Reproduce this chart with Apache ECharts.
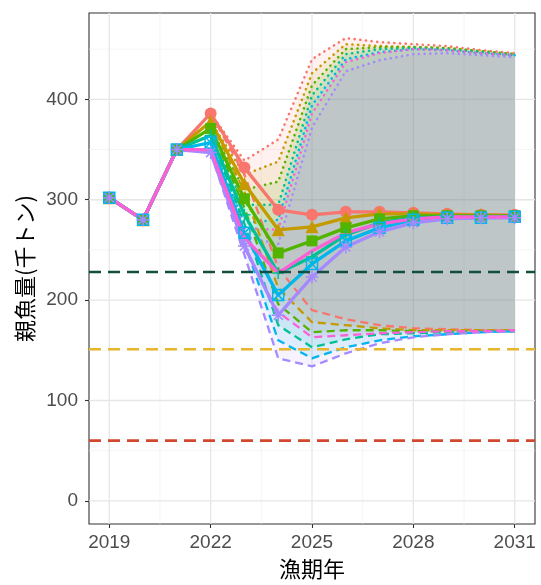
<!DOCTYPE html>
<html><head><meta charset="utf-8">
<script src="https://cdn.jsdelivr.net/npm/echarts@6/dist/echarts.min.js"></script>
<style>html,body{margin:0;padding:0;background:#fff}#c{width:541px;height:585px}</style>
</head><body><div id="c"></div>
<script>
// ---- data ----
const histYears = [2019, 2020, 2021];
const histSSB   = [302, 280, 350];
const projYears = [2022, 2023, 2024, 2025, 2026, 2027, 2028, 2029, 2030, 2031];

// medians (solid lines)
const medS1 = [386, 332, 290, 285, 288, 288, 287, 286, 285, 285];
const medS2 = [378, 316, 270, 273, 282, 286, 286, 285, 285, 284];
const medS3 = [371, 301, 247, 259, 272, 281, 284, 284, 284, 284];
const medS4 = [364, 285, 227, 243, 265, 277, 282, 283, 283, 283];
const medS5 = [357, 267, 205, 236, 259, 272, 280, 282, 282, 283];
const medS6 = [347, 254, 185, 223, 253, 268, 277, 281, 282, 282];
const medS7 = [350, 262, 227, 249, 267, 276, 281, 283, 283, 283];

// upper bounds (dotted)
const upS1 = [386, 339, 360, 440, 461, 457, 455, 453, 449, 446];
const upS2 = [378, 325, 338, 426, 455, 453, 452, 451, 448, 445];
const upS3 = [371, 310, 318, 414, 450, 452, 452, 451, 448, 445];
const upS4 = [364, 295, 295, 404, 445, 450, 451, 450, 447, 444];
const upS5 = [357, 277, 280, 394, 440, 447, 450, 449, 446, 444];
const upS6 = [347, 263, 256, 372, 428, 439, 445, 446, 444, 442];
const upS7 = [350, 272, 270, 386, 437, 446, 450, 449, 446, 444];

// lower bounds (dashed)
const loS1 = [386, 325, 232, 190, 181, 175, 172, 171, 170, 170];
const loS2 = [378, 308, 212, 178, 175, 172, 170, 170, 170, 170];
const loS3 = [371, 292, 196, 168, 170, 170, 169, 169, 169, 169];
const loS4 = [364, 276, 175, 153, 161, 166, 167, 168, 169, 169];
const loS5 = [357, 257, 160, 142, 153, 160, 164, 166, 168, 169];
const loS6 = [347, 245, 142, 134, 147, 157, 163, 166, 168, 169];
const loS7 = [350, 252, 188, 163, 165, 167, 168, 169, 169, 170];

// reference points
const refTarget = 228, refLimit = 151, refBan = 60;

// axes
const xTicks = [2019, 2022, 2025, 2028, 2031];
const xMinor = [2020.5, 2023.5, 2026.5, 2029.5];
const yTicks = [0, 100, 200, 300, 400];
const yMinor = [50, 150, 250, 350, 450];
const xMin = 2018.4, xMax = 2031.6, yMin = -23, yMax = 486;

// ---- styling ----
const colors = ['#F8766D', '#C49A00', '#53B400', '#00C094', '#00B6EB', '#A58AFF', '#FB61D7'];
const meds = [medS1, medS2, medS3, medS4, medS5, medS6, medS7];
const ups  = [upS1, upS2, upS3, upS4, upS5, upS6, upS7];
const los  = [loS1, loS2, loS3, loS4, loS5, loS6, loS7];
const symbols = [
  {s: 'circle', size: 12, fill: true},
  {s: 'triangle', size: 13, fill: true},
  {s: 'rect', size: 11, fill: true},
  {s: 'path://M5,0L5,10M0,5L10,5', size: 12, fill: false},
  {s: 'path://M0,0L10,0L10,10L0,10ZM0,0L10,10M10,0L0,10', size: 11, fill: false},
  {s: 'path://M5,0L5,10M0,5L10,5M1.5,1.5L8.5,8.5M8.5,1.5L1.5,8.5', size: 13, fill: false},
  null
];

function rgba(hex, a) {
  const n = parseInt(hex.slice(1), 16);
  return 'rgba(' + ((n >> 16) & 255) + ',' + ((n >> 8) & 255) + ',' + (n & 255) + ',' + a + ')';
}

function gridSeries(values, vertical, color, width) {
  return {
    type: 'custom', silent: true, z: 1,
    data: values.map(v => vertical ? [v, yMin] : [xMin, v]),
    encode: {x: 0, y: 1},
    renderItem: function (params, api) {
      const cs = params.coordSys;
      const p = api.coord([api.value(0), api.value(1)]);
      const shape = vertical
        ? {x1: p[0], y1: cs.y, x2: p[0], y2: cs.y + cs.height}
        : {x1: cs.x, y1: p[1], x2: cs.x + cs.width, y2: p[1]};
      return {type: 'line', shape: shape, style: {stroke: color, lineWidth: width}};
    }
  };
}

function hlineSeries(value, color) {
  return {
    type: 'custom', silent: true, z: 5,
    data: [[xMin, value]],
    encode: {x: 0, y: 1},
    renderItem: function (params, api) {
      const cs = params.coordSys;
      const p = api.coord([api.value(0), api.value(1)]);
      return {type: 'line', shape: {x1: cs.x, y1: p[1], x2: cs.x + cs.width, y2: p[1]},
        style: {stroke: color, lineWidth: 2.6, lineDash: [12, 7]}};
    }
  };
}

function ribbonSeries(lo, up, color) {
  return {
    type: 'custom', silent: true, z: 2,
    data: projYears.map((y, i) => [y, lo[i], up[i]]),
    encode: {x: 0, y: [1, 2]},
    renderItem: function (params, api) {
      if (params.dataIndexInside !== 0) return null;
      const n = params.dataInsideLength;
      const top = [], bot = [];
      for (let i = 0; i < n; i++) {
        top.push(api.coord([api.value(0, i), api.value(2, i)]));
        bot.push(api.coord([api.value(0, i), api.value(1, i)]));
      }
      return {type: 'polygon', shape: {points: top.concat(bot.reverse())},
        style: {fill: rgba(color, 0.1)}};
    }
  };
}

const series = [];
series.push(gridSeries(xMinor, true, '#F0F0F0', 0.7));
series.push(gridSeries(yMinor, false, '#F0F0F0', 0.7));
series.push(gridSeries(xTicks, true, '#E6E6E6', 1.3));
series.push(gridSeries(yTicks, false, '#E6E6E6', 1.3));

for (let k = 0; k < 7; k++) series.push(ribbonSeries(los[k], ups[k], colors[k]));
for (let k = 0; k < 7; k++) {
  series.push({
    type: 'line', z: 3, silent: true, symbol: 'none',
    data: projYears.map((y, i) => [y, ups[k][i]]),
    lineStyle: {color: colors[k], width: 2.6, type: [0.1, 5.6], cap: 'round'}
  });
}
for (let k = 0; k < 7; k++) {
  series.push({
    type: 'line', z: 3, silent: true, symbol: 'none',
    data: projYears.map((y, i) => [y, los[k][i]]),
    lineStyle: {color: colors[k], width: 2.3, type: [8, 5]}
  });
}
for (let k = 0; k < 7; k++) {
  const d = histYears.map((y, i) => [y, histSSB[i]]).concat(projYears.map((y, i) => [y, meds[k][i]]));
  series.push({
    type: 'line', z: 4, silent: true, symbol: 'none', data: d,
    lineStyle: {color: colors[k], width: 3.3}
  });
}
for (let k = 0; k < 7; k++) {
  const sym = symbols[k];
  if (!sym) continue;
  const d = histYears.map((y, i) => [y, histSSB[i]]).concat(projYears.map((y, i) => [y, meds[k][i]]));
  series.push({
    type: 'scatter', z: 4, silent: true, data: d,
    symbol: sym.s, symbolSize: sym.size,
    itemStyle: sym.fill ? {color: colors[k], borderWidth: 0, opacity: 1}
                        : {color: 'rgba(0,0,0,0)', borderColor: colors[k], borderWidth: 1.5, opacity: 1}
  });
}
series.push(hlineSeries(refTarget, '#134f3e'));
series.push(hlineSeries(refLimit, '#e8b52c'));
series.push(hlineSeries(refBan, '#d2482f'));

const chart = echarts.init(document.getElementById('c'), null, {renderer: 'canvas'});
chart.setOption({
  animation: false,
  backgroundColor: '#ffffff',
  grid: {left: 89, right: 6, top: 13, bottom: 61, show: true, borderColor: '#333333', borderWidth: 1.1,
         backgroundColor: '#ffffff', containLabel: false, outerBoundsMode: 'none'},
  xAxis: {
    type: 'value', min: xMin, max: xMax, position: 'bottom',
    name: '漁期年', nameLocation: 'middle', nameGap: 34,
    nameTextStyle: {fontSize: 22, color: '#000', fontFamily: 'Noto Sans CJK JP'},
    axisLine: {show: false, onZero: false}, splitLine: {show: false}, minorTick: {show: false},
    axisTick: {show: true, customValues: xTicks, length: 4, lineStyle: {color: '#333', width: 1.1}},
    axisLabel: {show: true, customValues: xTicks, fontSize: 19, color: '#4D4D4D', margin: 9,
                fontFamily: 'Liberation Sans', formatter: v => String(v)}
  },
  yAxis: {
    type: 'value', min: yMin, max: yMax, position: 'left',
    name: '親魚量(千トン)', nameLocation: 'middle', nameGap: 52, nameRotate: 90,
    nameTextStyle: {fontSize: 22, color: '#000', fontFamily: 'Noto Sans CJK JP'},
    axisLine: {show: false, onZero: false}, splitLine: {show: false}, minorTick: {show: false},
    axisTick: {show: true, customValues: yTicks, length: 4, lineStyle: {color: '#333', width: 1.1}},
    axisLabel: {show: true, customValues: yTicks, fontSize: 19, color: '#4D4D4D', margin: 11,
                fontFamily: 'Liberation Sans', formatter: v => String(v)}
  },
  series: series
});
</script></body></html>
